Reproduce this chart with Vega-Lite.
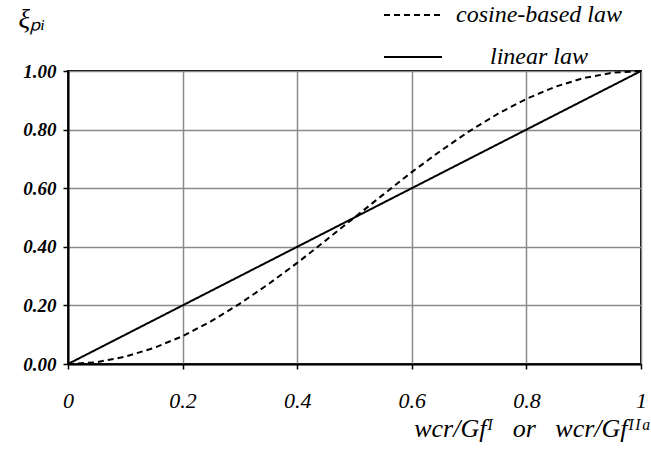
{
  "$schema": "https://vega.github.io/schema/vega-lite/v6.json",
  "width": 573,
  "height": 293,
  "autosize": {"type": "none"},
  "padding": {"left": 68, "top": 71, "right": 10, "bottom": 95},
  "background": "white",
  "config": {
    "font": "Liberation Serif",
    "view": {"stroke": "black", "strokeWidth": 2}
  },
  "data": {
    "values": [
      {"x": 0, "y": 0, "law": "cosine-based law"},
      {"x": 0.05, "y": 0.006, "law": "cosine-based law"},
      {"x": 0.1, "y": 0.025, "law": "cosine-based law"},
      {"x": 0.15, "y": 0.055, "law": "cosine-based law"},
      {"x": 0.2, "y": 0.095, "law": "cosine-based law"},
      {"x": 0.25, "y": 0.146, "law": "cosine-based law"},
      {"x": 0.3, "y": 0.206, "law": "cosine-based law"},
      {"x": 0.35, "y": 0.273, "law": "cosine-based law"},
      {"x": 0.4, "y": 0.345, "law": "cosine-based law"},
      {"x": 0.45, "y": 0.422, "law": "cosine-based law"},
      {"x": 0.5, "y": 0.5, "law": "cosine-based law"},
      {"x": 0.55, "y": 0.578, "law": "cosine-based law"},
      {"x": 0.6, "y": 0.655, "law": "cosine-based law"},
      {"x": 0.65, "y": 0.727, "law": "cosine-based law"},
      {"x": 0.7, "y": 0.794, "law": "cosine-based law"},
      {"x": 0.75, "y": 0.854, "law": "cosine-based law"},
      {"x": 0.8, "y": 0.905, "law": "cosine-based law"},
      {"x": 0.85, "y": 0.946, "law": "cosine-based law"},
      {"x": 0.9, "y": 0.976, "law": "cosine-based law"},
      {"x": 0.95, "y": 0.994, "law": "cosine-based law"},
      {"x": 1, "y": 1, "law": "cosine-based law"},
      {"x": 0, "y": 0, "law": "linear law"},
      {"x": 0.5, "y": 0.5, "law": "linear law"},
      {"x": 1, "y": 1, "law": "linear law"}
    ]
  },
  "mark": {"type": "line", "color": "black", "strokeWidth": 2},
  "encoding": {
    "x": {
      "field": "x",
      "type": "quantitative",
      "scale": {"domain": [0, 1], "nice": false},
      "axis": {
        "values": [0, 0.2, 0.4, 0.6, 0.8, 1],
        "format": ".1~f",
        "labelFont": "Liberation Serif",
        "labelFontStyle": "oblique",
        "labelFontSize": 22,
        "labelColor": "black",
        "labelPadding": 21,
        "labelFlush": false,
        "tickSize": 5,
        "tickColor": "black",
        "tickWidth": 1.5,
        "domainColor": "black",
        "domainWidth": 2,
        "gridColor": "#8a8a8a",
        "gridWidth": 1.5,
        "gridOpacity": 1,
        "title": "wcr/Gfᴵ\u00a0\u00a0\u00a0or\u00a0\u00a0\u00a0wcr/Gfᴵᴵᵃ",
        "titleFont": "Liberation Serif",
        "titleFontSize": 26,
        "titleFontStyle": "oblique",
        "titleFontWeight": "normal",
        "titleColor": "black",
        "titleX": 583,
        "titleY": 72,
        "titleAlign": "right",
        "titleBaseline": "alphabetic"
      }
    },
    "y": {
      "field": "y",
      "type": "quantitative",
      "scale": {"domain": [0, 1], "nice": false},
      "axis": {
        "values": [0, 0.2, 0.4, 0.6, 0.8, 1],
        "format": ".2f",
        "labelFont": "Liberation Serif",
        "labelFontStyle": "oblique",
        "labelFontWeight": "bold",
        "labelFontSize": 19,
        "labelColor": "black",
        "labelPadding": 7,
        "labelFlush": false,
        "tickSize": 5,
        "tickColor": "black",
        "tickWidth": 1.5,
        "domainColor": "black",
        "domainWidth": 2,
        "gridColor": "#8a8a8a",
        "gridWidth": 1.5,
        "gridOpacity": 1,
        "title": "ξₚᵢ",
        "titleAngle": 0,
        "titleFont": "Liberation Serif",
        "titleFontSize": 27,
        "titleFontStyle": "oblique",
        "titleFontWeight": "normal",
        "titleColor": "black",
        "titleX": -50,
        "titleY": -44,
        "titleAlign": "left",
        "titleBaseline": "alphabetic"
      }
    },
    "strokeDash": {
      "field": "law",
      "type": "nominal",
      "scale": {"domain": ["cosine-based law", "linear law"], "range": [[6, 4], [1, 0]]},
      "legend": {
        "orient": "none",
        "legendX": 315,
        "legendY": -86,
        "title": null,
        "symbolType": "stroke",
        "symbolSize": 3364,
        "symbolStrokeWidth": 2,
        "symbolStrokeColor": "black",
        "labelFont": "Liberation Serif",
        "labelFontSize": 24,
        "labelFontStyle": "oblique",
        "labelColor": "black",
        "labelAlign": "center",
        "labelOffset": 96,
        "labelLimit": 400,
        "rowPadding": -53
      }
    }
  }
}
